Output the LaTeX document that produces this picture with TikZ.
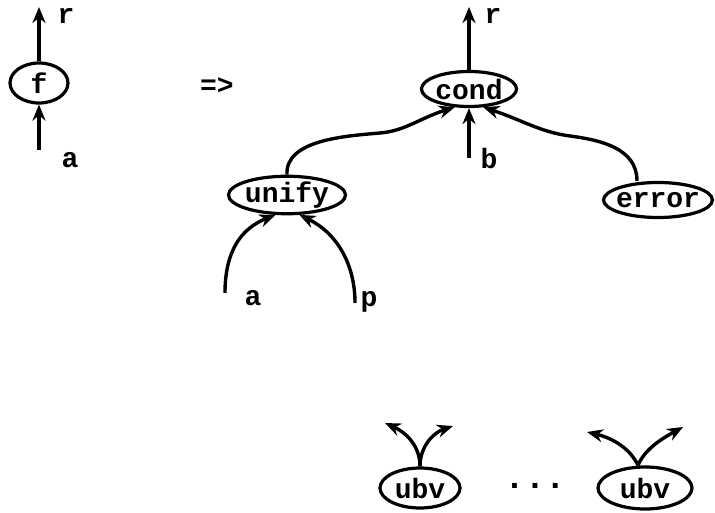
\documentclass[tikz,border=0pt]{standalone}
\usepackage{fontspec}
\newfontfamily\twfont{Liberation Mono}
\usetikzlibrary{shapes.geometric,arrows.meta}
\begin{document}
\begin{tikzpicture}[x=1pt,y=-1pt,
  every node/.style={font=\twfont\bfseries\fontsize{28}{28}\selectfont, inner sep=0pt},
  oval/.style={ellipse, draw, line width=3.2pt},
  conn/.style={line width=3.4pt, -{Stealth[length=16pt,width=13pt]}},
  lbl/.style={anchor=center}]
\useasboundingbox (0,0) rectangle (715,513);
% left: f
\node[oval, minimum width=58, minimum height=40] (f) at (39,83) {f};
\coordinate (rtipA) at (39,7);
\coordinate (ainA) at (39,150);
\draw[conn] (f.north) -- (rtipA);
\draw[conn] (ainA) -- (f.south);
\node[lbl] (rA) at (66,16) {r};
\node[lbl] (aA) at (70,160) {a};
% =>
\node[lbl] (impl) at (217,86) {=>};
% cond
\node[oval, minimum width=92, minimum height=35] (cond) at (469,89) {cond};
\coordinate (rtipB) at (469,7);
\coordinate (binB) at (469,158);
\draw[conn] (cond.north) -- (rtipB);
\draw[conn] (binB) -- (cond.south);
\node[lbl] (rB) at (493,16) {r};
\node[lbl] (bB) at (489,158) {b};
% unify
\node[oval, inner xsep=-1pt, minimum width=117, minimum height=27] (unify) at (287,195) {unify};
\draw[conn] (unify.north) .. controls (285,140) and (345,136) .. (380,133)
  .. controls (405,131) and (420,118) .. (cond.-128);
% error
\node[oval, inner xsep=-3.5pt, minimum width=108, minimum height=35] (error) at (658,200) {error};
\draw[conn] (error.north -| 637,0) .. controls (637,148) and (600,140) .. (570,136)
  .. controls (540,132) and (522,120) .. (cond.-52);
% inputs of unify
\coordinate (ainB) at (225,293);
\coordinate (pinB) at (355,303);
\draw[conn] (ainB) .. controls (225,250) and (242,228) .. (unify.-120);
\draw[conn] (pinB) .. controls (355,262) and (335,232) .. (unify.-58);
\node[lbl] (aB) at (253,298) {a};
\node[lbl] (pB) at (369,302) {p};
% ubv nodes
\node[oval, minimum width=80, minimum height=40] (ubvA) at (420,488) {ubv};
\node[oval, minimum width=94, minimum height=42] (ubvB) at (645,488) {ubv};
\coordinate (ubvAl) at (385,423);
\coordinate (ubvAr) at (453,426);
\coordinate (ubvBl) at (587,432);
\coordinate (ubvBr) at (683,427);
\draw[conn] (ubvA.north) .. controls (420,445) and (405,432) .. (ubvAl);
\draw[conn] (ubvA.north) .. controls (420,445) and (435,432) .. (ubvAr);
\draw[conn] (ubvB.north -| 638,0) .. controls (630,448) and (612,438) .. (ubvBl);
\draw[conn] (ubvB.north -| 638,0) .. controls (645,448) and (665,437) .. (ubvBr);
\node[lbl, font=\twfont\bfseries\fontsize{34}{34}\selectfont] (dots) at (535,486) {...};
\end{tikzpicture}
\end{document}
